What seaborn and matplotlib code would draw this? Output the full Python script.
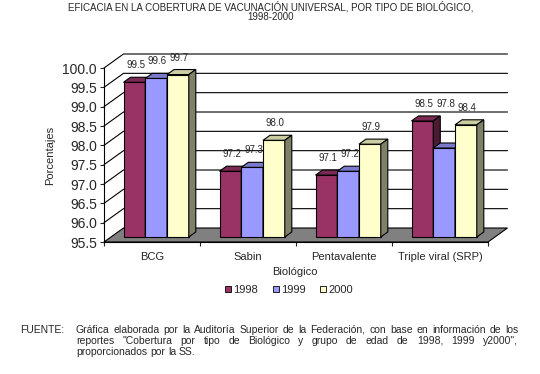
import numpy as np
import pandas as pd
import seaborn as sns
from matplotlib import pyplot as plt
from matplotlib.patches import Polygon, Patch

categorias = ['BCG', 'Sabin', 'Pentavalente', 'Triple viral (SRP)']
anios = ['1998', '1999', '2000']
v1998 = [99.5, 97.2, 97.1, 98.5]
v1999 = [99.6, 97.3, 97.2, 97.8]
v2000 = [99.7, 98.0, 97.9, 98.4]
y_ticks = [95.5, 96.0, 96.5, 97.0, 97.5, 98.0, 98.5, 99.0, 99.5, 100.0]

titulo = ['EFICACIA EN LA COBERTURA DE VACUNACIÓN UNIVERSAL, POR TIPO DE BIOLÓGICO,',
          '1998-2000']
fuente = ['Gráfica elaborada por la Auditoría Superior de la Federación, con base en información de los',
          'reportes "Cobertura por tipo de Biológico y grupo de edad de 1998, 1999 y2000",',
          'proporcionados por la SS.']

col_front = {'1998': '#993366', '1999': '#9999FF', '2000': '#FFFFCC'}
col_top = {'1998': '#7A2952', '1999': '#7A7ACC', '2000': '#CCCCA3'}
col_side = {'1998': '#4D1A33', '1999': '#4D4D80', '2000': '#808066'}

df = pd.DataFrame({
    'Biológico': categorias * 3,
    'anio': np.repeat(anios, len(categorias)),
    'valor': v1998 + v1999 + v2000,
})

sns.set_style('white')
plt.rcParams['font.family'] = ['Liberation Sans', 'DejaVu Sans']

W, H = 540, 374
fig = plt.figure(figsize=(W / 100, H / 100), dpi=100)
ax = fig.add_axes([104 / W, (H - 242) / H, (488 - 104) / W, (242 - 68) / H])

sns.barplot(data=df, x='Biológico', y='valor', hue='anio', palette=col_front,
            width=0.68, saturation=1, errorbar=None, edgecolor='black',
            linewidth=0.8, legend=False, ax=ax)

ymin, ymax = y_ticks[0], y_ticks[-1]
ax.set_xlim(-0.5, 3.5)
ax.set_ylim(ymin, ymax)

# depth of the fake 3D box (data units)
ddx, ddy = 19.5 / 96, 14 / 38.67
d0, dd = 0.36, 0.36

floor = Polygon([(-0.5, ymin), (3.5, ymin), (3.5 + ddx, ymin + ddy), (-0.5 + ddx, ymin + ddy)],
                closed=True, facecolor='#808080', edgecolor='black', lw=0.8,
                clip_on=False, zorder=1)
ax.add_patch(floor)
for v in y_ticks[1:]:
    ax.plot([-0.5, -0.5 + ddx, 3.5 + ddx], [v, v + ddy, v + ddy], color='black',
            lw=0.8, clip_on=False, zorder=1)

prev = None
for i, (cont, a) in enumerate(zip(ax.containers, anios)):
    alturas = []
    for j, bar in enumerate(cont):
        v = bar.get_height()
        alturas.append(v)
        x = bar.get_x() + ddx * d0 - 0.03
        w = bar.get_width()
        y0 = ymin + ddy * d0
        bar.set_x(x)
        bar.set_y(y0)
        bar.set_height(v - ymin)
        bar.set_zorder(3 + i)
        bar.set_clip_on(False)
        top = v + ddy * d0
        ax.add_patch(Polygon([(x, top), (x + w, top), (x + w + ddx * dd, top + ddy * dd),
                              (x + ddx * dd, top + ddy * dd)], closed=True,
                             facecolor=col_top[a], edgecolor='black', lw=0.8,
                             clip_on=False, zorder=3.1 + i))
        ax.add_patch(Polygon([(x + w, y0), (x + w, top), (x + w + ddx * dd, top + ddy * dd),
                              (x + w + ddx * dd, y0 + ddy * dd)], closed=True,
                             facecolor=col_side[a], edgecolor='black', lw=0.8,
                             clip_on=False, zorder=3.1 + i))
        # lift label over a taller left neighbour, as Excel does
        v_lbl = max(v, prev[j]) if prev is not None else v
        ax.annotate(f'{v:.1f}', (x + w / 2, v_lbl + ddy * (d0 + dd)),
                    xytext=(1, 5), textcoords='offset points', ha='center', va='bottom',
                    fontsize=7, zorder=10, annotation_clip=False)
    prev = alturas

for s in ['top', 'right']:
    ax.spines[s].set_visible(False)
for s in ['left', 'bottom']:
    ax.spines[s].set_color('black')
    ax.spines[s].set_linewidth(0.8)
    ax.spines[s].set_zorder(2)

ax.set_yticks(y_ticks)
ax.set_yticklabels([f'{t:.1f}' for t in y_ticks])
ax.tick_params(axis='y', left=True, length=3, width=0.8, pad=2, labelsize=10)
ax.set_xticks(range(len(categorias)))
ax.set_xticklabels(categorias)
ax.set_xticks([-0.5, 0.5, 1.5, 2.5, 3.5], minor=True)
ax.tick_params(axis='x', which='major', length=0, pad=7, labelsize=8)
ax.tick_params(axis='x', which='minor', bottom=True, length=3, width=0.8)
ax.set_xlabel('')
ax.set_ylabel('')

fig.text(50 / W, 1 - 155 / H, 'Porcentajes', rotation=90, ha='center', va='center', fontsize=8)
fig.text(295 / W, 1 - 272 / H, 'Biológico', ha='center', va='center', fontsize=8)
fig.text(271 / W, 1 - 6.5 / H, titulo[0], ha='center', va='center', fontsize=7)
fig.text(271 / W, 1 - 16.5 / H, titulo[1], ha='center', va='center', fontsize=7)

handles = [Patch(facecolor=col_front[a], edgecolor='black', linewidth=0.6, label=a) for a in anios]
fig.legend(handles=handles, loc='center', bbox_to_anchor=(289 / W, 1 - 290 / H), ncol=3,
           frameon=False, fontsize=8, handlelength=0.55, handleheight=0.55,
           handletextpad=0.2, columnspacing=1.3)

# footer, justified like the source
renderer = fig.canvas.get_renderer()
fs = 7.5
fig.text(20 / W, 1 - 330 / H, 'FUENTE:', ha='left', va='center', fontsize=fs)
x0, x1 = 76, 518
for k, linea in enumerate(fuente):
    yf = 1 - (330 + 10.8 * k) / H
    palabras = linea.split()
    objs = [fig.text(0, yf, p, ha='left', va='center', fontsize=fs) for p in palabras]
    anchos = [t.get_window_extent(renderer).width for t in objs]
    if k < len(fuente) - 1:
        gap = (x1 - x0 - sum(anchos)) / (len(palabras) - 1)
    else:
        gap = fs * 100 / 72 * 0.278
    xp = x0
    for t, wd in zip(objs, anchos):
        t.set_x(xp / W)
        xp += wd + gap

fig.savefig('out.png', dpi=100)
